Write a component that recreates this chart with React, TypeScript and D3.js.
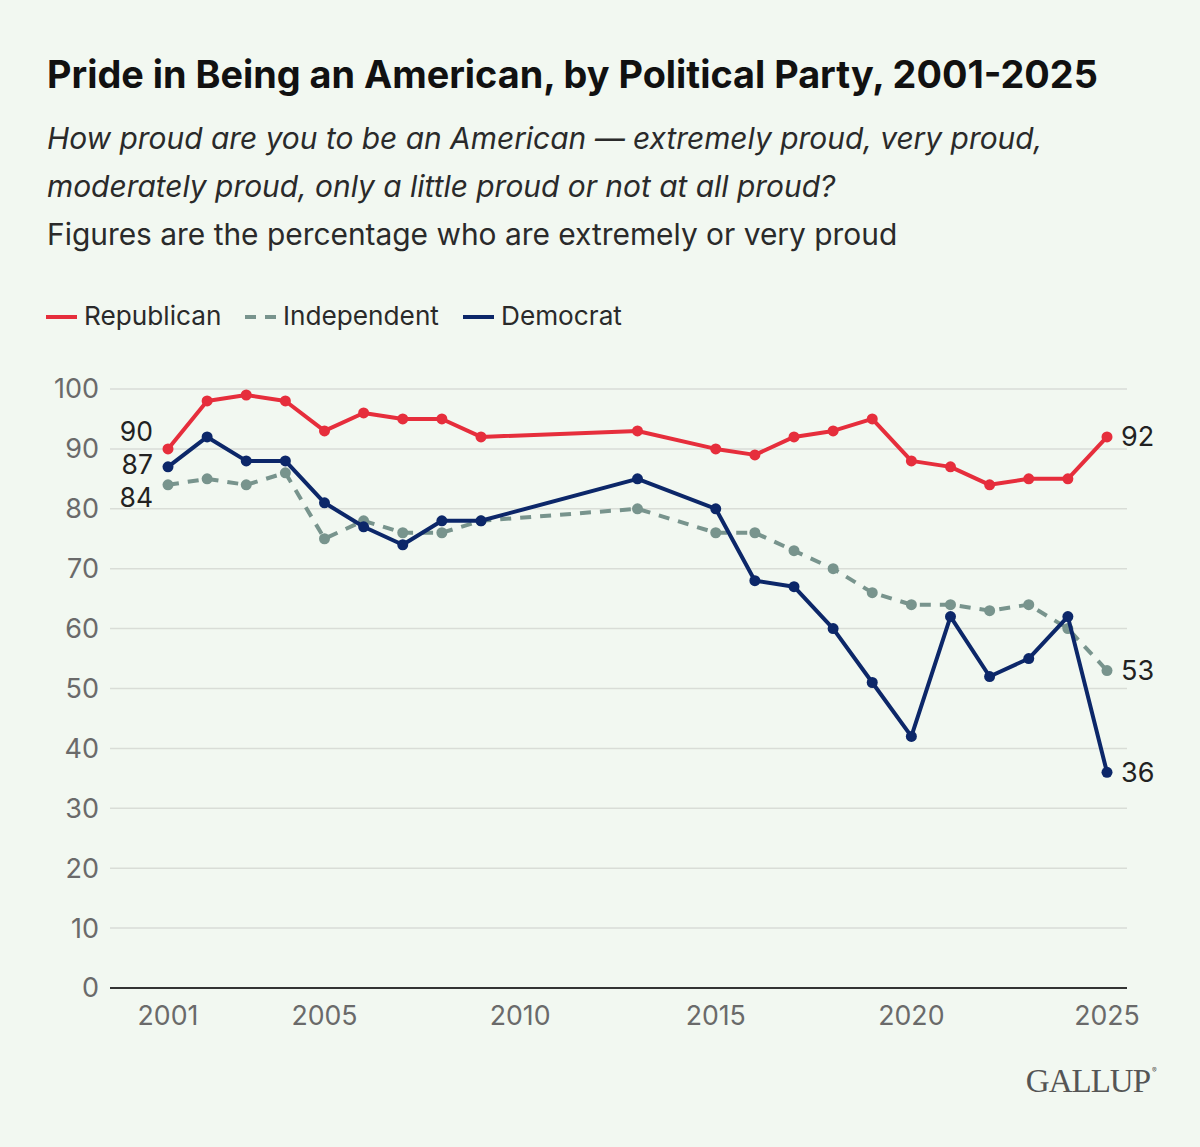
import { useEffect, useRef } from 'react';
import * as d3 from 'd3';

// survey years (gap between 2009 and 2013 is real, no data in between)
const years = [2001, 2002, 2003, 2004, 2005, 2006, 2007, 2008, 2009, 2013, 2015, 2016, 2017, 2018, 2019, 2020, 2021, 2022, 2023, 2024, 2025];
const republican = [90, 98, 99, 98, 93, 96, 95, 95, 92, 93, 90, 89, 92, 93, 95, 88, 87, 84, 85, 85, 92];
const independent = [84, 85, 84, 86, 75, 78, 76, 76, 78, 80, 76, 76, 73, 70, 66, 64, 64, 63, 64, 60, 53];
const democrat = [87, 92, 88, 88, 81, 77, 74, 78, 78, 85, 80, 68, 67, 60, 51, 42, 62, 52, 55, 62, 36];

const yTicks = [0, 10, 20, 30, 40, 50, 60, 70, 80, 90, 100];
const xTicks = [2001, 2005, 2010, 2015, 2020, 2025];

const seriesNames = ['Republican', 'Independent', 'Democrat'];
const seriesColors = ['#e62e3c', '#78948d', '#0c2769'];

const W = 1200;
const H = 1147;
const FONT = 'Inter, "Noto Sans", sans-serif';

const App = () => {
  const ref = useRef<SVGSVGElement>(null);

  useEffect(() => {
    const svg = d3.select(ref.current);
    svg.selectAll('*').remove();

    svg.append('rect').attr('width', W).attr('height', H).attr('fill', '#f2f8f1');

    // titles
    svg.append('text').attr('x', 47).attr('y', 88)
      .attr('font-family', FONT).attr('font-size', 37.8).attr('font-weight', 700)
      .attr('fill', '#111').text('Pride in Being an American, by Political Party, 2001-2025');
    const sub = [
      'How proud are you to be an American \u2014 extremely proud, very proud,',
      'moderately proud, only a little proud or not at all proud?',
    ];
    sub.forEach((s, i) => {
      svg.append('text').attr('x', 47).attr('y', 149 + i * 48)
        .attr('font-family', FONT).attr('font-size', 29.9).attr('font-style', 'italic')
        .attr('fill', '#2a2a2a').text(s);
    });
    svg.append('text').attr('x', 47).attr('y', 245)
      .attr('font-family', FONT).attr('font-size', 29.9)
      .attr('fill', '#2a2a2a').text('Figures are the percentage who are extremely or very proud');

    // legend
    const legendX = [46, 245, 463];
    seriesNames.forEach((name, i) => {
      svg.append('line').attr('x1', legendX[i]).attr('x2', legendX[i] + 31)
        .attr('y1', 317).attr('y2', 317)
        .attr('stroke', seriesColors[i]).attr('stroke-width', 4)
        .attr('stroke-dasharray', i === 1 ? '11,9' : null);
      svg.append('text').attr('x', legendX[i] + 38).attr('y', 325)
        .attr('font-family', FONT).attr('font-size', 26.2)
        .attr('fill', '#2a2a2a').text(name);
    });

    const x = d3.scaleLinear().domain([2001, 2025]).range([168, 1107]);
    const y = d3.scaleLinear().domain([0, 100]).range([988, 389]);

    // grid
    const gridG = svg.append('g');
    yTicks.filter(t => t > 0).forEach(t => {
      gridG.append('line').attr('x1', 110).attr('x2', 1127)
        .attr('y1', y(t)).attr('y2', y(t))
        .attr('stroke', '#d9ddd7').attr('stroke-width', 1.5);
    });
    gridG.append('line').attr('x1', 110).attr('x2', 1127)
      .attr('y1', y(0)).attr('y2', y(0))
      .attr('stroke', '#333').attr('stroke-width', 2);

    yTicks.forEach(t => {
      svg.append('text').attr('x', 99).attr('y', y(t)).attr('dy', '0.35em')
        .attr('text-anchor', 'end').attr('font-family', FONT).attr('font-size', 27)
        .attr('fill', '#6a6a6a').text(t);
    });
    xTicks.forEach(t => {
      svg.append('text').attr('x', x(t)).attr('y', 1025)
        .attr('text-anchor', 'middle').attr('font-family', FONT).attr('font-size', 26.7)
        .attr('fill', '#6a6a6a').text(t);
    });

    const line = d3.line<number>().x((_, i) => x(years[i])).y(d => y(d));
    const allSeries = [republican, independent, democrat];
    // independent underneath, then democrat, republican on top
    [1, 2, 0].forEach(si => {
      const vals = allSeries[si];
      const g = svg.append('g');
      g.append('path').attr('d', line(vals) as string)
        .attr('fill', 'none').attr('stroke', seriesColors[si])
        .attr('stroke-width', 4).attr('stroke-linejoin', 'round')
        .attr('stroke-dasharray', si === 1 ? '11,9' : null);
      g.selectAll('circle').data(vals).enter().append('circle')
        .attr('cx', (_, i) => x(years[i])).attr('cy', d => y(d))
        .attr('r', 5.5).attr('fill', seriesColors[si]);
    });

    // start and end labels (start ones nudged apart so they don't collide)
    const startDy = [-17, 13, -2];
    allSeries.forEach((vals, si) => {
      svg.append('text').attr('x', 153).attr('y', y(vals[0]) + startDy[si]).attr('dy', '0.35em')
        .attr('text-anchor', 'end').attr('font-family', FONT).attr('font-size', 26.5)
        .attr('fill', '#222').text(vals[0]);
      const last = vals[vals.length - 1];
      svg.append('text').attr('x', 1121).attr('y', y(last)).attr('dy', '0.35em')
        .attr('font-family', FONT).attr('font-size', 27)
        .attr('fill', '#222').text(last);
    });

    svg.append('text').attr('x', 1150).attr('y', 1092).attr('text-anchor', 'end')
      .attr('font-family', '"Liberation Serif", "DejaVu Serif", serif').attr('font-size', 33)
      .attr('fill', '#555').attr('letter-spacing', -1).text('GALLUP');
    svg.append('text').attr('x', 1152).attr('y', 1073)
      .attr('font-family', FONT).attr('font-size', 7).attr('fill', '#555').text('®');
  }, []);

  return (
    <div style={{ position: 'absolute', left: 0, top: 0, width: W, height: H }}>
      <svg ref={ref} width={W} height={H} style={{ display: 'block' }} />
    </div>
  );
};

export default App;
